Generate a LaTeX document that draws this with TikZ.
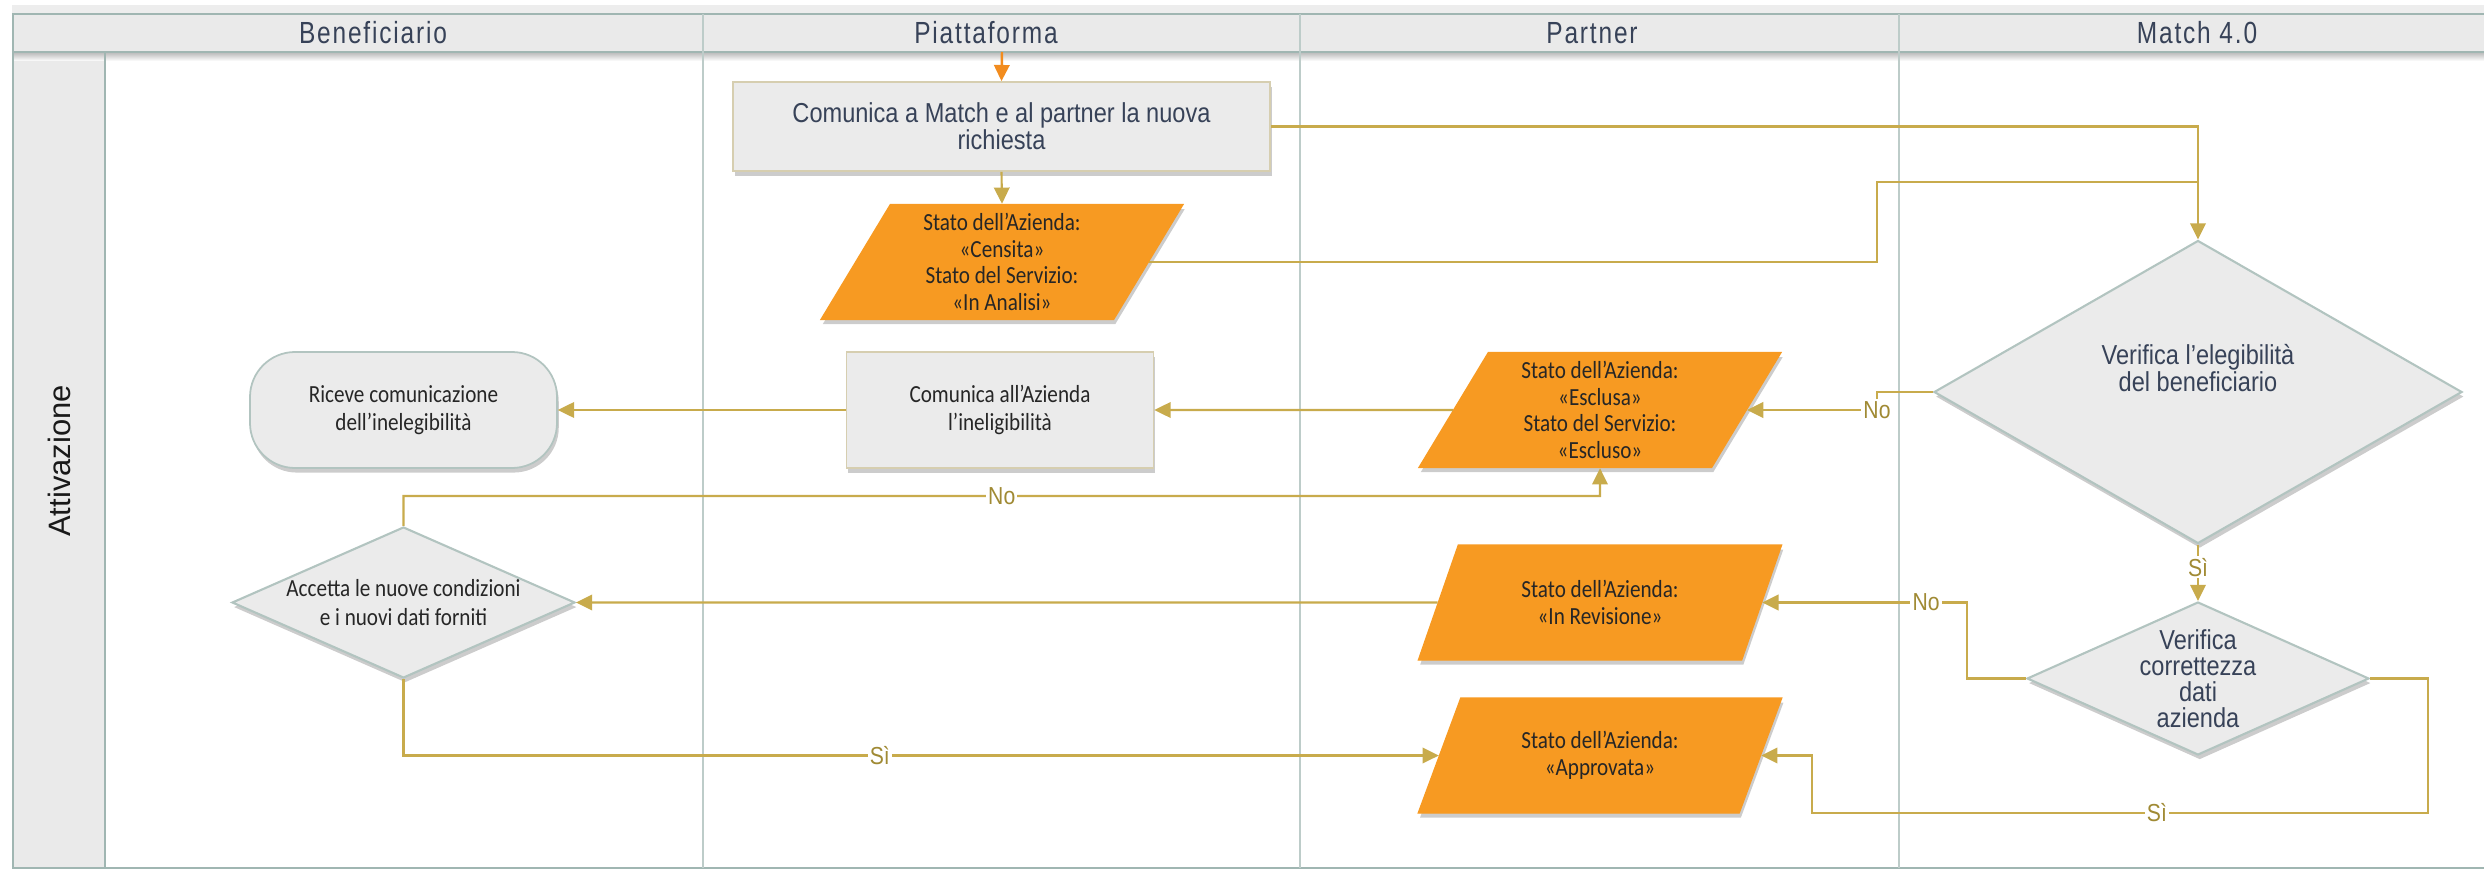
\documentclass[tikz,border=0pt]{standalone}
\usepackage{fontspec}
\setmainfont{Carlito}
\newfontfamily\narrowfont[FakeStretch=0.86]{Liberation Sans}
\newfontfamily\headfont[FakeStretch=0.8,LetterSpace=6]{Liberation Sans}
\newfontfamily\calfont[FakeStretch=0.86]{Carlito}
\newfontfamily\poolfont{Liberation Sans}
\usepackage{tikz}
\usetikzlibrary{shapes,arrows.meta,positioning,calc,shadows}
\usepackage{xcolor}
\definecolor{flowgold}{RGB}{200,171,76}
\definecolor{labelgold}{RGB}{160,138,52}
\definecolor{statorange}{RGB}{247,154,34}
\definecolor{startorange}{RGB}{242,140,30}
\definecolor{shapegray}{RGB}{235,235,235}
\definecolor{shapeedge}{RGB}{178,196,192}
\definecolor{boxedge}{RGB}{214,206,176}
\definecolor{laneline}{RGB}{160,182,178}
\definecolor{inkslate}{RGB}{55,66,88}
\definecolor{headgray}{RGB}{234,234,234}

\begin{document}
\begin{tikzpicture}[
    lane/.style={draw=laneline, line width=0.8pt},
    thinlane/.style={draw=laneline!70, line width=0.4pt},
    flow/.style={draw=flowgold, line width=0.6pt, -{Triangle[length=4.6pt,width=4.4pt]}},
    plainflow/.style={draw=flowgold, line width=0.6pt},
    flowlabel/.style={fill=white, inner sep=0.6pt, text=labelgold, font=\narrowfont\fontsize{7}{8}\selectfont},
    softshadow/.style={drop shadow={shadow xshift=0.5pt, shadow yshift=-1.3pt, fill=black, opacity=0.2}},
    taskbox/.style={rectangle, fill=shapegray, draw=boxedge, line width=0.5pt, softshadow, align=center, text=black!85, font=\calfont\fontsize{7}{8}\selectfont},
    statebox/.style={trapezium, trapezium left angle=63.4, trapezium right angle=116.6, trapezium stretches=true, fill=statorange, draw=statorange, minimum width=3.64cm, minimum height=1.15cm, inner sep=0pt, softshadow, align=center, text=black!85, font=\calfont\fontsize{7}{7.6}\selectfont},
    decision/.style={diamond, fill=shapegray, draw=shapeedge, line width=0.6pt, inner sep=0pt, softshadow, align=center},
    lanehead/.style={text=inkslate, font=\headfont\fontsize{8.7}{10}\selectfont}
]
    \useasboundingbox (0,0) rectangle (24.84,8.71);

    \fill[black!7] (0.12,8.57) rectangle (24.84,8.66);
    \fill[headgray] (0.12,8.19) rectangle (24.84,8.57);
    \shade[top color=black!28, bottom color=white] (0.13,8.10) rectangle (24.84,8.19);
    \fill[headgray] (0.13,0.03) rectangle (1.05,8.10);
    \draw[lane] (0.12,8.57) -- (24.84,8.57);
    \draw[lane] (0.12,8.19) -- (24.84,8.19);
    \draw[lane] (0.13,8.57) -- (0.13,0.03) -- (24.84,0.03);
    \draw[lane] (1.05,8.19) -- (1.05,0.03);
    \draw[thinlane] (7.03,8.57) -- (7.03,0.03);
    \draw[thinlane] (13.00,8.57) -- (13.00,0.03);
    \draw[thinlane] (18.99,8.57) -- (18.99,0.03);

    \node[lanehead] (hBen) at (3.73,8.38) {Beneficiario};
    \node[lanehead] (hPia) at (9.86,8.38) {Piattaforma};
    \node[lanehead] (hPar) at (15.92,8.38) {Partner};
    \node[lanehead] (hMat) at (21.97,8.38) {Match 4.0};
    \node[rotate=90, font=\poolfont\fontsize{8.8}{10}\selectfont, text=black!90] (pool) at (0.59,4.10) {Attivazione};

    \coordinate (start) at (10.02,8.19);
    \node[taskbox, draw=boxedge, minimum width=5.37cm, minimum height=0.89cm, text=inkslate, font=\narrowfont\fontsize{7.8}{7.6}\selectfont] (comm) at (10.015,7.445) {Comunica a Match e al partner la nuova\\richiesta};
    \node[statebox] (censita) at (10.02,6.09) {Stato dell’Azienda:\\«Censita»\\Stato del Servizio:\\«In Analisi»};

    \node[decision, aspect=1.74, minimum width=5.28cm, minimum height=3.03cm, text=inkslate, font=\narrowfont\fontsize{7.8}{7.6}\selectfont] (elig) at (21.98,4.79) {Verifica l’elegibilità\\del beneficiario\\[6pt]};
    \node[statebox] (esclusa) at (16.00,4.61) {Stato dell’Azienda:\\«Esclusa»\\Stato del Servizio:\\«Escluso»};
    \node[taskbox, minimum width=3.07cm, minimum height=1.16cm] (inelig) at (10.00,4.61) {Comunica all’Azienda\\l’ineligibilità};
    \node[taskbox, draw=shapeedge, rounded corners=0.45cm, minimum width=3.07cm, minimum height=1.16cm] (riceve) at (4.035,4.61) {Riceve comunicazione\\dell’inelegibilità};

    \node[decision, aspect=2.27, minimum width=3.43cm, minimum height=1.51cm, text=black!85, font=\calfont\fontsize{7}{8}\selectfont] (accetta) at (4.035,2.685) {Accetta le nuove condizioni\\e i nuovi dati forniti};
    \node[statebox] (revisione) at (16.00,2.685) {Stato dell’Azienda:\\«In Revisione»};
    \node[statebox] (approvata) at (16.00,1.155) {Stato dell’Azienda:\\«Approvata»};
    \node[decision, aspect=2.24, minimum width=3.42cm, minimum height=1.53cm, text=inkslate, font=\narrowfont\fontsize{7.8}{7.4}\selectfont] (verif) at (21.98,1.925) {Verifica\\correttezza\\dati\\azienda};

    \coordinate (joinA) at (18.77,6.89);
    \coordinate (joinB) at (21.98,6.89);
    \coordinate (noA) at (18.77,0 |- esclusa.east);
    \coordinate (noB) at (19.67,0 |- verif.west);
    \coordinate (siA) at (24.28,0.58);
    \coordinate (siB) at (18.12,0.58);
    \coordinate (noC) at (16.00,3.75);

    \draw[draw=startorange, line width=0.7pt, -{Triangle[length=4.6pt,width=4.4pt]}] (start) -- (comm.north);
    \draw[flow] (comm.south) -- (censita.north);
    \draw[flow] (comm.east) -| (elig.north);
    \draw[plainflow] (censita.east) -| (joinA) -- (joinB);
    \draw[flow] (elig.west) -| (noA) -- (esclusa.east);
    \node[flowlabel] (lblNoA) at (noA) {No};
    \draw[flow] (esclusa.west) -- (inelig.east);
    \draw[flow] (inelig.west) -- (riceve.east);
    \draw[flow] (elig.south) -- node[flowlabel, pos=0.4] (lblSiA) {Sì} (verif.north);
    \draw[flow] (verif.west) -- (noB) |- node[flowlabel, pos=0.6] (lblNoB) {No} (revisione.east);
    \draw[flow] (verif.east) -| (siA) -- node[flowlabel, pos=0.44] (lblSiB) {Sì} (siB) |- (approvata.east);
    \draw[flow] (revisione.west) -- (accetta.east);
    \draw[flow] (accetta.north) |- node[flowlabel, pos=0.75] (lblNoC) {No} (noC) -- (esclusa.south);
    \draw[flow] (accetta.south) |- node[flowlabel, pos=0.73] (lblSiC) {Sì} (approvata.west);
\end{tikzpicture}
\end{document}
